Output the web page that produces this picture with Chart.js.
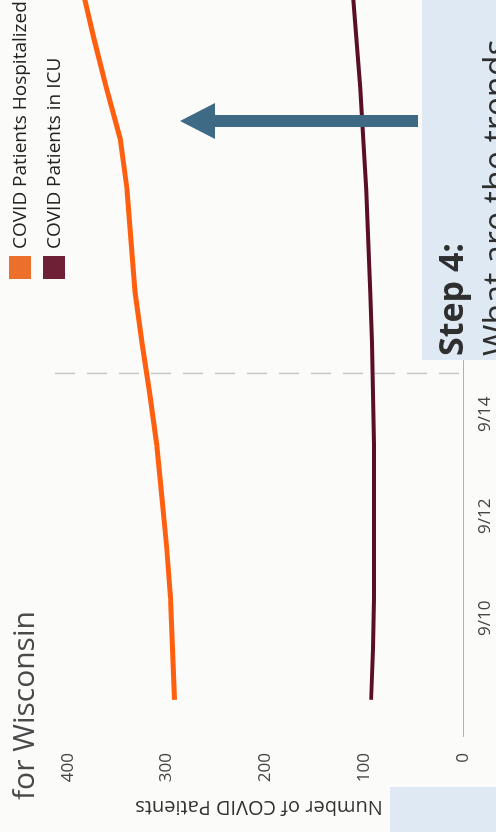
<!DOCTYPE html>
<html>
<head>
<meta charset="utf-8">
<script src="https://cdn.jsdelivr.net/npm/chart.js@4/dist/chart.umd.min.js"></script>
<style>
  html, body { margin: 0; padding: 0; background: #fbfbfa; overflow: hidden; width: 496px; height: 832px; }
  #wrap {
    position: absolute; left: 0; top: 0;
    width: 892px; height: 496px;
    transform-origin: 0 0;
    transform: translate(0px, 832px) rotate(-90deg);
  }
</style>
</head>
<body>
<div id="wrap"><canvas id="covidChart" width="892" height="496"></canvas></div>
<script>
// data (day of September)
const days = [8.4, 9.4, 10.4, 11.4, 12.4, 13.4, 14.4, 15.4, 16.4, 17.4, 18.4, 19.4, 20.4, 21.4, 22.4];
const hospitalized = [292, 294, 296, 300, 305, 310, 317, 325, 332, 336, 340, 347, 361, 374, 386];
const icu = [93, 91, 90, 90, 90, 90, 91, 92, 94, 96, 98, 101, 104, 108, 112];
const seriesNames = ['COVID Patients Hospitalized', 'COVID Patients in ICU'];
const tickDays = [10, 12, 14, 16, 18, 20, 22];
const tickLabels = ['9/10', '9/12', '9/14', '9/16', '9/18', '9/20', '9/22'];
const valueTicks = [0, 100, 200, 300, 400];
const markerDay = 14.8;

const FONT = '"Open Sans", "DejaVu Sans", sans-serif';

const decor = {
    id: 'decor',
    beforeDatasetsDraw(chart) {
        const ctx = chart.ctx;
        const x = chart.scales.x.getPixelForValue(markerDay);
        ctx.save();
        ctx.strokeStyle = '#c8c8c8';
        ctx.lineWidth = 1.5;
        ctx.setLineDash([20, 12]);
        ctx.beginPath();
        ctx.moveTo(x, chart.chartArea.top);
        ctx.lineTo(x, chart.chartArea.bottom + 2);
        ctx.stroke();
        ctx.restore();
    },
    afterDraw(chart) {
        const ctx = chart.ctx;
        const w = chart.width;
        ctx.save();

        // light blue boxes
        ctx.fillStyle = '#dfe9f3';
        ctx.fillRect(472, 422, w - 472, 80);
        ctx.fillRect(0, 390, 45, 110);

        // step text
        ctx.fillStyle = '#2f2f2f';
        ctx.textBaseline = 'alphabetic';
        ctx.font = 'bold 34px ' + FONT;
        ctx.fillText('Step 4:', 476, 463);
        ctx.font = '34px ' + FONT;
        ctx.fillText('What are the trends', 476, 508);

        // arrow
        ctx.fillStyle = '#3f6a86';
        ctx.fillRect(705, 213, 12, 205);
        ctx.beginPath();
        ctx.moveTo(711, 180);
        ctx.lineTo(693, 215);
        ctx.lineTo(729, 215);
        ctx.closePath();
        ctx.fill();

        // title
        ctx.fillStyle = '#4a4a4a';
        ctx.font = '30px ' + FONT;
        ctx.fillText('for Wisconsin', 32, 34);

        // legend
        ctx.font = '19px ' + FONT;
        ctx.textBaseline = 'middle';
        chart.data.datasets.forEach((ds, i) => {
            const y = 20 + i * 34;
            ctx.fillStyle = ds.backgroundColor;
            ctx.fillRect(553, y - 11, 23, 22);
            ctx.fillStyle = '#222';
            ctx.fillText(ds.label, 583, y + 1);
        });
        ctx.restore();
    }
};

const ctx = document.getElementById('covidChart').getContext('2d');

const chart = new Chart(ctx, {
    type: 'line',
    data: {
        datasets: [
            {
                label: seriesNames[0],
                data: days.map((d, i) => ({ x: d, y: hospitalized[i] })),
                borderColor: '#ff5f0f',
                backgroundColor: '#ec6f2c',
                borderWidth: 5,
                pointRadius: 0,
                tension: 0,
            },
            {
                label: seriesNames[1],
                data: days.map((d, i) => ({ x: d, y: icu[i] })),
                borderColor: '#5a0e28',
                backgroundColor: '#6e2036',
                borderWidth: 4,
                pointRadius: 0,
                tension: 0,
            },
        ],
    },
    options: {
        responsive: false,
        animation: false,
        layout: { padding: { top: 55, right: 0, bottom: 0, left: 0 } },
        plugins: {
            legend: { display: false },
            title: { display: false },
            tooltip: { enabled: false },
        },
        scales: {
            x: {
                type: 'linear',
                min: 7.67,
                max: 23.3,
                grid: { display: false },
                border: { display: true, color: '#b0b0b0', dash: [3, 3], width: 1 },
                afterBuildTicks: scale => { scale.ticks = tickDays.map(v => ({ value: v })); },
                afterFit: scale => { scale.height = 33; },
                ticks: {
                    autoSkip: false,
                    maxRotation: 0,
                    padding: 4,
                    color: '#444',
                    font: { family: FONT, size: 17 },
                    callback: v => tickLabels[tickDays.indexOf(v)],
                },
            },
            y: {
                min: 0,
                max: 413,
                grid: { display: false },
                border: { display: false },
                afterBuildTicks: scale => { scale.ticks = valueTicks.map(v => ({ value: v })); },
                afterFit: scale => { scale.width = 95; },
                ticks: {
                    padding: 8,
                    color: '#444',
                    font: { family: FONT, size: 17 },
                },
                title: {
                    display: true,
                    text: 'Number of COVID Patients',
                    color: '#333',
                    font: { family: FONT, size: 20 },
                    padding: { top: 13, bottom: 0 },
                },
            },
        },
    },
    plugins: [decor],
});
</script>
</body>
</html>
